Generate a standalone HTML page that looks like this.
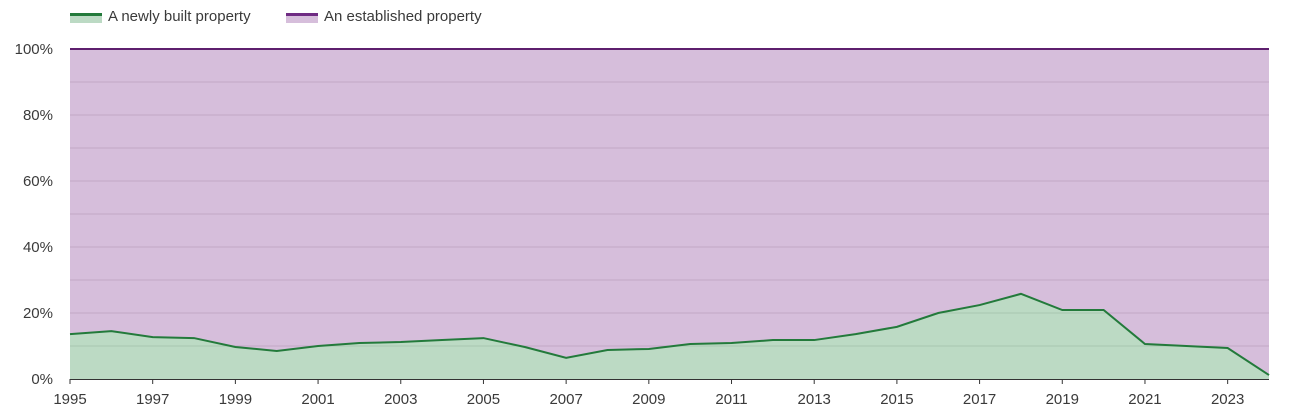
<!DOCTYPE html>
<html><head><meta charset="utf-8"><style>
body{margin:0;background:#fff;font-family:"Liberation Sans",sans-serif;}
svg text{font-family:"Liberation Sans",sans-serif;fill:#3a3a3a;font-size:15px;}
</style></head><body>
<svg width="1305" height="410">
<g>
 <rect x="70" y="14" width="32" height="9" fill="#bcdac4"/>
 <rect x="70" y="13" width="32" height="3" fill="#237a3b"/>
 <text x="108" y="21">A newly built property</text>
 <rect x="286" y="14" width="32" height="9" fill="#d6bedb"/>
 <rect x="286" y="13" width="32" height="3" fill="#6f2b83"/>
 <text x="324" y="21">An established property</text>
</g>
<g id="plot"></g>
</svg>
<script>
const years=[1995,1996,1997,1998,1999,2000,2001,2002,2003,2004,2005,2006,2007,2008,2009,2010,2011,2012,2013,2014,2015,2016,2017,2018,2019,2020,2021,2022,2023,2024];
const newBuilt=[13.6,14.5,12.7,12.4,9.7,8.5,10,10.9,11.2,11.8,12.4,9.7,6.4,8.8,9.1,10.6,10.9,11.8,11.8,13.6,15.8,20,22.4,25.8,20.9,20.9,10.6,10,9.4,1.2];
const yTicks=[0,20,40,60,80,100];
const xTickYears=[1995,1997,1999,2001,2003,2005,2007,2009,2011,2013,2015,2017,2019,2021,2023];
const NS='http://www.w3.org/2000/svg';
const g=document.getElementById('plot');
const x0=70,x1=1269,y0=379,y1=49;
const X=v=>x0+(v-years[0])/(years[years.length-1]-years[0])*(x1-x0);
const Y=v=>y0-v/100*(y0-y1);
function mk(t,a){const e=document.createElementNS(NS,t);for(const k in a)e.setAttribute(k,a[k]);g.appendChild(e);return e;}
let e=mk('rect',{x:x0,y:y1,width:x1-x0,height:y0-y1,fill:'#d6bedb'});


for(let v=10;v<100;v+=10){e=mk('line',{x1:x0,x2:x1,y1:Y(v),y2:Y(v),stroke:'#c1a8c6','stroke-width':1});

}
let pts=years.map((yr,i)=>X(yr)+','+Y(newBuilt[i])).join(' ');
e=mk('polygon',{points:X(years[0])+','+y0+' '+pts+' '+X(years[years.length-1])+','+y0,fill:'#bcdac4'});


const defs=document.createElementNS(NS,'defs');const cp=document.createElementNS(NS,'clipPath');cp.setAttribute('id','c');
const cpp=document.createElementNS(NS,'polygon');cpp.setAttribute('points',X(years[0])+','+y0+' '+pts+' '+X(years[years.length-1])+','+y0);cp.appendChild(cpp);defs.appendChild(cp);g.insertBefore(defs,g.firstChild);
for(let v=10;v<100;v+=10){e=mk('line',{x1:x0,x2:x1,y1:Y(v),y2:Y(v),stroke:'#a9c6b0','stroke-width':1,'clip-path':'url(#c)'});

}
e=mk('polyline',{points:pts,fill:'none',stroke:'#237a3b','stroke-width':2});


e=mk('line',{x1:x0,x2:x1,y1:Y(100),y2:Y(100),stroke:'#5e1f6e','stroke-width':2});


e=mk('line',{x1:x0,x2:x1,y1:y0+0.5,y2:y0+0.5,stroke:'#333','stroke-width':1});


yTicks.forEach(v=>{const t=mk('text',{x:53,y:Y(v)+5,'text-anchor':'end'});t.textContent=v+'%';

});
xTickYears.forEach(v=>{const t=mk('text',{x:X(v),y:404,'text-anchor':'middle'});t.textContent=v;


const l=mk('line',{x1:X(v),x2:X(v),y1:y0,y2:y0+5,stroke:'#333'});

});
</script>
</body></html>
